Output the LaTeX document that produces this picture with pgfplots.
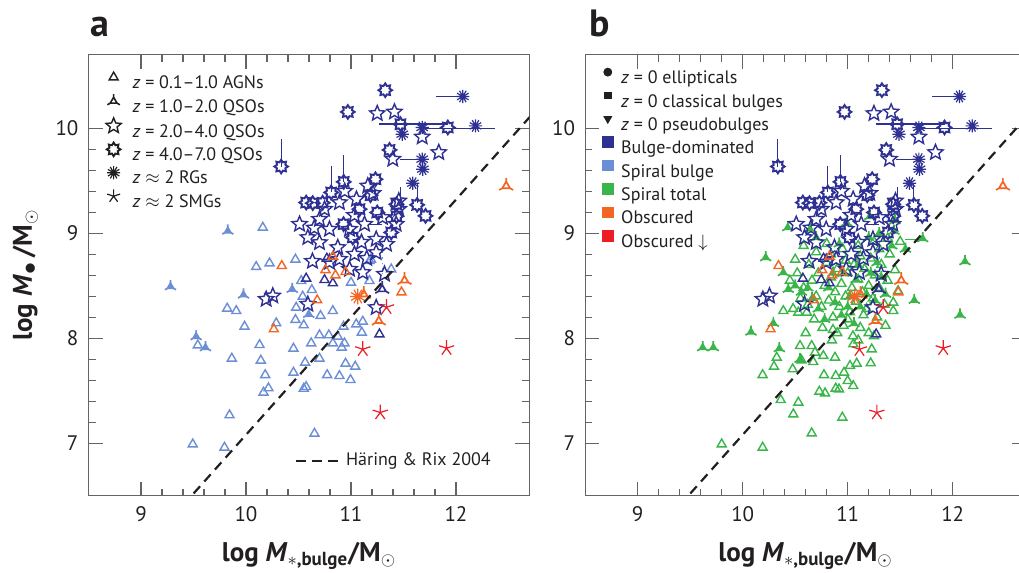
\documentclass[border=0pt]{standalone}
\usepackage{fontspec}
\setmainfont{PT Sans}
\usepackage{pgfplots}
\usepackage{pgfplotstable}
\pgfplotsset{compat=1.18}

\definecolor{navy}{RGB}{46,49,146}
\definecolor{lblue}{RGB}{108,142,214}
\definecolor{sgreen}{RGB}{57,181,74}
\definecolor{obsorange}{RGB}{242,101,34}
\definecolor{obsred}{RGB}{237,28,36}
\definecolor{framegray}{RGB}{100,100,102}
\definecolor{txt}{RGB}{35,31,32}

% open five-pointed star
\pgfdeclareplotmark{ostar}{%
  \pgfpathmoveto{\pgfpointpolar{90}{\pgfplotmarksize}}%
  \pgfpathlineto{\pgfpointpolar{126}{0.45*\pgfplotmarksize}}%
  \pgfpathlineto{\pgfpointpolar{162}{\pgfplotmarksize}}%
  \pgfpathlineto{\pgfpointpolar{198}{0.45*\pgfplotmarksize}}%
  \pgfpathlineto{\pgfpointpolar{234}{\pgfplotmarksize}}%
  \pgfpathlineto{\pgfpointpolar{270}{0.45*\pgfplotmarksize}}%
  \pgfpathlineto{\pgfpointpolar{306}{\pgfplotmarksize}}%
  \pgfpathlineto{\pgfpointpolar{342}{0.45*\pgfplotmarksize}}%
  \pgfpathlineto{\pgfpointpolar{18}{\pgfplotmarksize}}%
  \pgfpathlineto{\pgfpointpolar{54}{0.45*\pgfplotmarksize}}%
  \pgfpathclose\pgfusepathqstroke}
% spiky ring for the highest-redshift quasars
\pgfdeclareplotmark{sun}{%
  \pgfpathmoveto{\pgfpointpolar{90}{\pgfplotmarksize}}%
  \pgfpathlineto{\pgfpointpolar{112.5}{0.66*\pgfplotmarksize}}%
  \pgfpathlineto{\pgfpointpolar{135}{\pgfplotmarksize}}%
  \pgfpathlineto{\pgfpointpolar{157.5}{0.66*\pgfplotmarksize}}%
  \pgfpathlineto{\pgfpointpolar{180}{\pgfplotmarksize}}%
  \pgfpathlineto{\pgfpointpolar{202.5}{0.66*\pgfplotmarksize}}%
  \pgfpathlineto{\pgfpointpolar{225}{\pgfplotmarksize}}%
  \pgfpathlineto{\pgfpointpolar{247.5}{0.66*\pgfplotmarksize}}%
  \pgfpathlineto{\pgfpointpolar{270}{\pgfplotmarksize}}%
  \pgfpathlineto{\pgfpointpolar{292.5}{0.66*\pgfplotmarksize}}%
  \pgfpathlineto{\pgfpointpolar{315}{\pgfplotmarksize}}%
  \pgfpathlineto{\pgfpointpolar{337.5}{0.66*\pgfplotmarksize}}%
  \pgfpathlineto{\pgfpointpolar{0}{\pgfplotmarksize}}%
  \pgfpathlineto{\pgfpointpolar{22.5}{0.66*\pgfplotmarksize}}%
  \pgfpathlineto{\pgfpointpolar{45}{\pgfplotmarksize}}%
  \pgfpathlineto{\pgfpointpolar{67.5}{0.66*\pgfplotmarksize}}%
  \pgfpathclose\pgfusepathqstroke}
% small triangle with spikes at its corners (open and filled)
\pgfdeclareplotmark{tri3}{%
  \pgfpathmoveto{\pgfpointpolar{90}{0.55*\pgfplotmarksize}}%
  \pgfpathlineto{\pgfpointpolar{210}{0.55*\pgfplotmarksize}}%
  \pgfpathlineto{\pgfpointpolar{330}{0.55*\pgfplotmarksize}}%
  \pgfpathclose
  \pgfpathmoveto{\pgfpointpolar{90}{0.55*\pgfplotmarksize}}\pgfpathlineto{\pgfpointpolar{90}{\pgfplotmarksize}}%
  \pgfpathmoveto{\pgfpointpolar{210}{0.55*\pgfplotmarksize}}\pgfpathlineto{\pgfpointpolar{210}{\pgfplotmarksize}}%
  \pgfpathmoveto{\pgfpointpolar{330}{0.55*\pgfplotmarksize}}\pgfpathlineto{\pgfpointpolar{330}{\pgfplotmarksize}}%
  \pgfusepathqstroke}
\pgfdeclareplotmark{tri3f}{%
  \pgfpathmoveto{\pgfpointpolar{90}{0.55*\pgfplotmarksize}}%
  \pgfpathlineto{\pgfpointpolar{210}{0.55*\pgfplotmarksize}}%
  \pgfpathlineto{\pgfpointpolar{330}{0.55*\pgfplotmarksize}}%
  \pgfpathclose\pgfusepathqfillstroke
  \pgfpathmoveto{\pgfpointpolar{90}{0.55*\pgfplotmarksize}}\pgfpathlineto{\pgfpointpolar{90}{\pgfplotmarksize}}%
  \pgfpathmoveto{\pgfpointpolar{210}{0.55*\pgfplotmarksize}}\pgfpathlineto{\pgfpointpolar{210}{\pgfplotmarksize}}%
  \pgfpathmoveto{\pgfpointpolar{330}{0.55*\pgfplotmarksize}}\pgfpathlineto{\pgfpointpolar{330}{\pgfplotmarksize}}%
  \pgfusepathqstroke}
% dense asterisk for radio galaxies
\pgfdeclareplotmark{rgast}{%
  \pgfpathmoveto{\pgfpointpolar{0}{\pgfplotmarksize}}\pgfpathlineto{\pgfpointpolar{180}{\pgfplotmarksize}}%
  \pgfpathmoveto{\pgfpointpolar{30}{\pgfplotmarksize}}\pgfpathlineto{\pgfpointpolar{210}{\pgfplotmarksize}}%
  \pgfpathmoveto{\pgfpointpolar{60}{\pgfplotmarksize}}\pgfpathlineto{\pgfpointpolar{240}{\pgfplotmarksize}}%
  \pgfpathmoveto{\pgfpointpolar{90}{\pgfplotmarksize}}\pgfpathlineto{\pgfpointpolar{270}{\pgfplotmarksize}}%
  \pgfpathmoveto{\pgfpointpolar{120}{\pgfplotmarksize}}\pgfpathlineto{\pgfpointpolar{300}{\pgfplotmarksize}}%
  \pgfpathmoveto{\pgfpointpolar{150}{\pgfplotmarksize}}\pgfpathlineto{\pgfpointpolar{330}{\pgfplotmarksize}}%
  \pgfusepathqstroke}

\tikzset{hr dash/.style={draw=txt, line width=1.1pt, dash pattern=on 4.8pt off 3.2pt}}

% ---------------- data: log M_bulge, log M_BH ----------------
\pgfplotstableread{
x y
10.160 9.054
10.097 8.680
10.224 8.714
10.471 8.750
11.190 8.750
9.821 8.283
9.907 8.260
9.986 8.111
9.541 7.933
9.865 7.807
10.129 7.936
10.141 7.788
10.183 7.650
10.214 7.524
10.167 7.483
9.843 7.267
9.493 6.990
9.795 6.959
10.288 8.143
10.452 7.902
10.452 7.673
10.563 7.768
10.573 7.536
10.550 7.520
10.652 7.092
10.471 8.175
10.550 8.124
10.478 8.292
10.526 8.546
10.627 8.460
10.540 8.397
10.710 8.213
10.827 8.260
10.700 8.029
10.789 8.029
10.874 8.016
10.621 7.952
10.700 7.807
10.827 7.952
10.912 7.911
10.938 7.952
10.929 8.111
11.050 8.133
11.112 8.159
11.103 8.054
10.948 7.759
11.040 7.730
10.773 7.650
10.890 7.641
10.995 7.603
11.000 8.530
11.176 8.546
11.176 8.736
11.383 8.657
}\lbtri

\pgfplotstableread{
x y
9.827 9.022
9.281 8.492
9.976 8.413
9.525 8.016
9.614 7.911
10.440 8.467
10.598 8.229
}\lbtrithree

\pgfplotstableread{
x y
11.250 10.140
11.414 10.155
11.678 9.917
11.836 9.769
11.398 9.705
11.455 9.308
11.455 9.229
11.430 9.086
10.890 9.292
10.700 9.133
10.795 9.038
10.589 8.959
10.700 8.911
10.986 9.038
11.129 9.086
11.160 9.450
11.033 9.171
11.240 8.943
11.240 8.816
10.874 8.864
11.033 8.800
10.890 8.752
11.112 8.626
10.192 8.371
10.255 8.403
10.589 8.324
11.240 8.292
11.052 9.324
10.748 9.229
11.100 8.914
11.338 8.895
10.795 8.724
10.633 8.733
10.986 8.657
11.319 8.610
10.510 9.086
11.210 9.380
11.300 9.150
10.940 9.400
11.150 8.760
10.650 9.050
}\navystar

\pgfplotstableread{
x y
11.326 10.362
10.970 10.155
10.335 9.635
11.367 9.793
11.471 10.038
11.922 10.007
10.931 9.489
10.811 9.388
11.233 9.514
10.573 9.292
10.636 9.286
10.730 9.290
11.250 9.197
11.630 9.270
11.710 9.165
11.383 9.007
11.017 8.959
11.186 9.362
11.433 9.162
10.929 9.086
11.081 9.229
11.433 9.276
}\navysun

\pgfplotstableread{
x y
12.065 10.302
11.678 10.007
12.186 10.022
11.488 9.943
11.678 9.705
11.684 9.610
11.589 9.476
}\navyast

\pgfplotstableread{
x y
10.770 8.759
10.573 8.569
10.748 8.555
10.827 8.524
11.271 8.038
}\navytri

\pgfplotstableread{
x y
11.297 8.467
}\navytrithree

\pgfplotstableread{
x y
10.341 8.689
10.265 8.086
10.757 8.650
10.852 8.600
10.948 8.631
10.678 8.362
10.827 8.778
11.481 8.438
}\ortri

\pgfplotstableread{
x y
11.122 8.419
11.265 8.165
11.510 8.552
12.478 9.450
}\ortrithree

\pgfplotstableread{
x y
11.065 8.397
}\orast

\pgfplotstableread{
x y
11.112 7.895
11.278 7.292
11.338 8.295
11.910 7.905
}\redast

\pgfplotstableread{
x y
9.800 6.990
10.190 6.959
10.657 7.095
10.949 7.245
10.482 7.276
10.530 7.388
10.362 7.412
10.190 7.650
10.298 7.730
10.324 7.816
10.476 7.705
10.560 7.790
10.672 7.774
10.774 7.650
10.886 7.641
10.730 7.492
10.784 7.476
10.886 7.521
10.917 7.514
11.000 7.593
11.053 7.546
10.965 7.673
11.022 7.737
11.086 7.759
11.219 7.762
10.879 7.816
10.768 7.832
10.689 7.864
10.657 7.927
10.546 7.927
11.229 7.895
11.053 7.943
10.387 8.260
10.530 8.245
10.610 8.245
11.434 8.260
11.434 8.340
10.45 8.55
10.52 8.62
10.58 8.48
10.63 8.70
10.66 8.55
10.70 8.40
10.72 8.62
10.75 8.30
10.78 8.50
10.80 8.72
10.82 8.36
10.84 8.58
10.86 8.20
10.88 8.44
10.90 8.66
10.92 8.30
10.94 8.52
10.96 8.12
10.98 8.40
11.00 8.62
11.02 8.25
11.04 8.48
11.06 8.70
11.08 8.35
11.10 8.56
11.12 8.10
11.14 8.44
11.16 8.66
11.18 8.28
11.20 8.50
11.22 8.76
11.24 8.38
11.26 8.60
11.28 8.20
11.30 8.48
11.32 8.70
11.35 8.32
11.38 8.55
11.40 8.80
11.20 8.05
11.05 8.02
10.90 8.05
10.76 8.10
10.68 8.18
10.62 8.32
10.55 8.38
10.48 8.28
10.60 8.05
10.85 7.98
11.10 7.98
11.25 8.02
10.80 8.90
10.95 8.85
11.10 8.88
11.25 8.92
11.38 8.95
11.45 8.65
11.48 8.45
11.50 8.92
10.70 8.82
10.58 8.88
10.50 8.75
10.86 8.08
11.00 8.18
11.15 8.22
11.12 8.78
10.98 8.74
10.84 8.80
11.30 8.85
11.36 8.12
}\grtri

\pgfplotstableread{
x y
10.219 8.768
12.117 8.730
11.634 8.362
12.070 8.222
11.714 8.949
10.079 8.060
9.619 7.911
9.720 7.911
10.292 8.143
10.349 7.902
10.546 7.800
10.387 8.626
10.434 8.467
10.429 9.054
10.50 8.50
10.56 8.44
10.62 8.48
10.72 8.28
10.78 8.18
10.82 8.48
10.88 8.34
10.94 8.22
10.96 8.62
11.02 8.40
11.06 8.14
11.08 8.56
11.12 8.30
11.18 8.42
11.22 8.62
11.26 8.36
11.28 8.72
11.32 8.58
11.36 8.42
11.42 8.88
11.10 8.70
10.92 8.90
10.70 8.96
11.20 8.96
11.44 9.02
11.55 8.85
11.30 9.00
10.66 8.38
10.86 8.62
11.00 8.30
10.64 9.04
10.99 9.10
11.21 9.16
11.45 9.12
}\grtrithree

\pgfplotsset{
  panel/.style={
    width=220.5pt, height=220.5pt, scale only axis,
    xmin=8.5, xmax=12.7, ymin=6.5, ymax=10.7,
    xtick={9,10,11,12}, ytick={7,8,9,10},
    minor x tick num=4, minor y tick num=4,
    tick align=inside,
    major tick length=7pt, minor tick length=3.5pt,
    axis line style={draw=framegray, line width=0.65pt},
    every tick/.style={draw=framegray, line width=0.65pt},
    tick label style={font=\fontsize{10.5}{12}\selectfont, text=txt},
    xticklabel style={yshift=-2pt},
    yticklabel style={xshift=-1.5pt},
    /pgf/number format/assume math mode=true,
    clip mode=individual,
    legend cell align=left,
  },
  s agn/.style={only marks, mark=triangle, mark size=2.6pt, line width=0.7pt},
  s qso1/.style={only marks, mark=tri3, mark size=3.1pt, line width=0.8pt},
  s qso1f/.style={only marks, mark=tri3f, mark size=3.2pt, line width=0.85pt},
  s qso1big/.style={only marks, mark=tri3, mark size=4pt, line width=0.85pt},
  s qso2/.style={only marks, mark=ostar, mark size=4pt, line width=0.7pt},
  s qso4/.style={only marks, mark=sun, mark size=3.4pt, line width=0.95pt},
  s rg/.style={only marks, mark=rgast, mark size=3.3pt, line width=0.6pt},
  s smg/.style={only marks, mark=star, mark size=4pt, line width=0.6pt},
  ebar/.style={navy, line width=0.6pt, no marks},
  hr line/.style={txt, line width=1.1pt, dash pattern=on 4.8pt off 3.2pt, no marks},
}

% objects plotted identically in both panels
\newcommand{\commonpoints}{%
  \addplot[s agn, navy] table {\navytri};
  \addplot[s qso1big, navy] table {\navytrithree};
  \addplot[ebar] coordinates {(11.807,10.302) (12.065,10.302)};
  \addplot[ebar] coordinates {(11.265,10.040) (11.922,10.040)};
  \addplot[ebar] coordinates {(11.678,10.000) (12.373,10.000)};
  \addplot[ebar] coordinates {(11.462,9.705) (11.678,9.705)};
  \addplot[ebar] coordinates {(10.335,9.635) (10.335,9.895)};
  \addplot[ebar] coordinates {(10.931,9.489) (10.931,9.743)};
  \addplot[ebar] coordinates {(10.811,9.388) (10.811,9.638)};
  \addplot[ebar] coordinates {(11.630,9.290) (11.630,9.476)};
  \addplot[ebar] coordinates {(11.471,9.330) (11.471,9.440)};
  \addplot[ebar] coordinates {(11.160,9.086) (11.297,9.086)};
  \addplot[lblue!80!cyan, line width=0.6pt, dotted, no marks] coordinates {(11.300,8.56) (11.300,8.96)};
  \addplot[s qso2, navy] table {\navystar};
  \addplot[s qso4, navy] table {\navysun};
  \addplot[s rg, navy] table {\navyast};
  \addplot[s agn, obsorange] table {\ortri};
  \addplot[s qso1big, obsorange] table {\ortrithree};
  \addplot[s rg, obsorange, mark size=3.9pt, line width=0.6pt] table {\orast};
  \addplot[s smg, obsred] table {\redast};
  \addplot[hr line] coordinates {(9.40,6.408) (12.80,10.216)};
}

\begin{document}
\begin{tikzpicture}
\useasboundingbox (0,0) rectangle (509.5pt,-286.5pt);

% ---------------- panel a ----------------
\begin{axis}[panel, at={(44.25pt,-247.85pt)}, anchor=south west,
  legend style={at={(axis cs:8.618,10.541)}, anchor=north west, draw=none, fill=none,
    inner sep=0pt, row sep=0pt, font=\fontsize{9}{10}\selectfont, text=txt,
    nodes={inner sep=0pt, text height=8.35pt, text depth=2.75pt},
    /tikz/every odd column/.append style={column sep=3.3pt}},
  legend image code/.code={\path (0pt,0pt) (11.4pt,0pt); \draw[#1] plot coordinates {(5.7pt,2.8pt)};},
]
\addlegendimage{s agn, txt}
\addlegendentry{\textit{z} = 0.1–1.0 AGNs}
\addlegendimage{s qso1, txt, mark size=3.6pt}
\addlegendentry{\textit{z} = 1.0–2.0 QSOs}
\addlegendimage{s qso2, txt}
\addlegendentry{\textit{z} = 2.0–4.0 QSOs}
\addlegendimage{s qso4, txt}
\addlegendentry{\textit{z} = 4.0–7.0 QSOs}
\addlegendimage{s rg, txt}
\addlegendentry{\textit{z} $\approx$ 2 RGs}
\addlegendimage{s smg, txt, mark size=3.4pt}
\addlegendentry{\textit{z} $\approx$ 2 SMGs}

\addplot[s agn, lblue] table {\lbtri};
\addplot[s qso1f, lblue] table {\lbtrithree};
\commonpoints

\draw[hr dash] (axis cs:10.48,6.83) -- (axis cs:10.89,6.83);
\node[anchor=west, inner sep=0pt, font=\fontsize{9}{10}\selectfont, text=txt] at (axis cs:10.95,6.83) {Häring \& Rix 2004};
\end{axis}

% ---------------- panel b ----------------
\begin{axis}[panel, at={(292.6pt,-247.85pt)}, anchor=south west,
  legend style={at={(axis cs:8.641,10.594)}, anchor=north west, draw=none, fill=none,
    inner sep=0pt, row sep=0pt, font=\fontsize{9}{10}\selectfont, text=txt,
    nodes={inner sep=0pt, text height=8.74pt, text depth=2.94pt},
    /tikz/every odd column/.append style={column sep=3pt}},
  legend image code/.code={\path (0pt,0pt) (7pt,0pt); \draw[#1] plot coordinates {(3.5pt,2.9pt)};},
]
\addlegendimage{only marks, mark=*, mark size=2pt, txt}
\addlegendentry{\textit{z} = 0 ellipticals}
\addlegendimage{only marks, mark=square*, mark size=1.7pt, txt}
\addlegendentry{\textit{z} = 0 classical bulges}
\addlegendimage{only marks, mark=triangle*, mark size=2.2pt, mark options={rotate=180}, txt}
\addlegendentry{\textit{z} = 0 pseudobulges}
\addlegendimage{only marks, mark=square*, mark size=2.65pt, navy}
\addlegendentry{Bulge-dominated}
\addlegendimage{only marks, mark=square*, mark size=2.65pt, lblue}
\addlegendentry{Spiral bulge}
\addlegendimage{only marks, mark=square*, mark size=2.65pt, sgreen}
\addlegendentry{Spiral total}
\addlegendimage{only marks, mark=square*, mark size=2.65pt, obsorange}
\addlegendentry{Obscured}
\addlegendimage{only marks, mark=square*, mark size=2.65pt, obsred}
\addlegendentry{Obscured $\downarrow$}

\addplot[s agn, sgreen] table {\grtri};
\addplot[s qso1f, sgreen] table {\grtrithree};
\addplot[sgreen, line width=0.6pt, no marks] coordinates {(10.46,8.60) (10.574,8.60)};
\addplot[sgreen, line width=0.6pt, no marks] coordinates {(11.546,8.943) (11.717,8.943)};
\commonpoints
\end{axis}

% panel letters and axis titles
\node[anchor=base west, inner sep=0pt, font=\fontsize{19}{20}\bfseries, text=txt] at (45pt,-18.5pt) {a};
\node[anchor=base west, inner sep=0pt, font=\fontsize{19}{20}\bfseries, text=txt] at (294.5pt,-18.5pt) {b};
\node[anchor=base, rotate=90, inner sep=0pt, font=\fontsize{13.5}{16}\bfseries, text=txt] at (16pt,-137.5pt)
  {log \textit{M}\textsubscript{\fontsize{13}{13}\selectfont$\bullet$}\,/M\textsubscript{$\odot$}};
\node[anchor=base, inner sep=0pt, font=\fontsize{13.5}{16}\bfseries, text=txt] at (154.5pt,-280.5pt)
  {log \textit{M}\textsubscript{$*$,bulge}/M\textsubscript{$\odot$}};
\node[anchor=base, inner sep=0pt, font=\fontsize{13.5}{16}\bfseries, text=txt] at (402.8pt,-280.5pt)
  {log \textit{M}\textsubscript{$*$,bulge}/M\textsubscript{$\odot$}};
\end{tikzpicture}
\end{document}
